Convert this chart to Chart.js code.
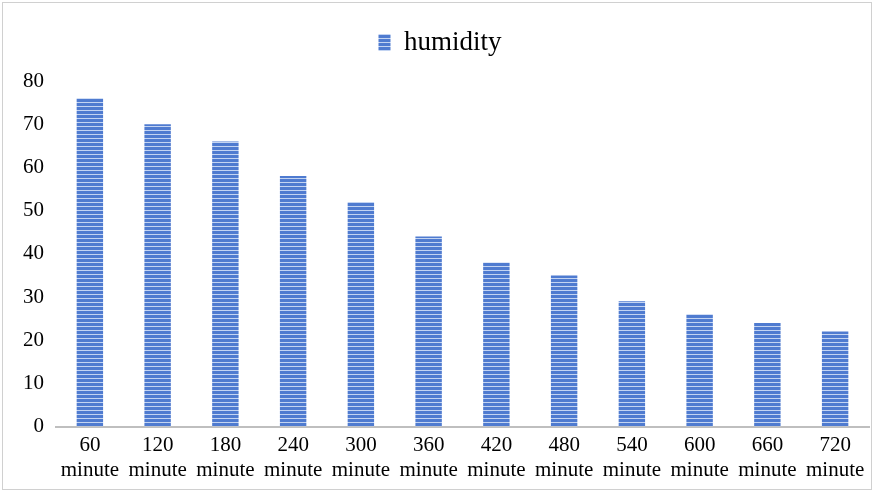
<!DOCTYPE html>
<html>
<head>
<meta charset="utf-8">
<script src="https://cdn.jsdelivr.net/npm/chart.js@4"></script>
<style>
  html, body { margin: 0; padding: 0; background: #fff; }
  #wrap { position: absolute; left: 2px; top: 2px; width: 868px; height: 486px; border: 1px solid #d0d0d0; }
</style>
</head>
<body>
<div id="wrap"><canvas id="myChart"></canvas></div>
<script>
var categories = [["60", "minute"], ["120", "minute"], ["180", "minute"], ["240", "minute"], ["300", "minute"], ["360", "minute"], ["420", "minute"], ["480", "minute"], ["540", "minute"], ["600", "minute"], ["660", "minute"], ["720", "minute"]];
var humidity = [76, 70, 66, 58, 52, 44, 38, 35, 29, 26, 24, 22];
var yTicks = [0, 10, 20, 30, 40, 50, 60, 70, 80];

// striped fill like the original bars
function stripes() {
  var c = document.createElement("canvas");
  c.width = 4; c.height = 4;
  var g = c.getContext("2d");
  g.fillStyle = "#4f7bd0";
  g.fillRect(0, 0, 4, 4);
  g.fillStyle = "#c3d4f2";
  g.fillRect(0, 3, 4, 1);
  return g.createPattern(c, "repeat");
}

var pattern = stripes();

// extra room under the legend
var legendGap = {
  id: "legendGap",
  beforeInit: function (chart) {
    var fit = chart.legend.fit;
    chart.legend.fit = function () {
      fit.bind(chart.legend)();
      this.height += 15;
    };
  }
};

new Chart("myChart", {
  type: "bar",
  data: {
    labels: categories,
    datasets: [{
      label: "humidity",
      data: humidity,
      backgroundColor: pattern,
      borderWidth: 0,
      barPercentage: 0.39,
      categoryPercentage: 1
    }]
  },
  options: {
    responsive: true,
    maintainAspectRatio: false,
    animation: false,
    layout: { padding: { left: 8, right: 2, top: 14, bottom: 0 } },
    plugins: {
      legend: {
        display: true,
        position: "top",
        labels: {
          font: { family: "Liberation Serif", size: 27 },
          color: "#000",
          boxWidth: 12,
          boxHeight: 17,
          padding: 12
        }
      },
      tooltip: { enabled: false }
    },
    scales: {
      x: {
        grid: { display: false, drawTicks: false },
        border: { display: true, color: "#bfbfbf", width: 2 },
        ticks: {
          font: { family: "Liberation Serif", size: 21 },
          color: "#000",
          padding: 6,
          maxRotation: 0
        }
      },
      y: {
        min: 0,
        max: 80,
        afterBuildTicks: function (axis) {
          axis.ticks = yTicks.map(function (v) { return { value: v }; });
        },
        grid: { display: false, drawTicks: false },
        border: { display: false },
        ticks: {
          font: { family: "Liberation Serif", size: 21 },
          color: "#000",
          padding: 12
        }
      }
    }
  },
  plugins: [legendGap]
});
</script>
</body>
</html>
